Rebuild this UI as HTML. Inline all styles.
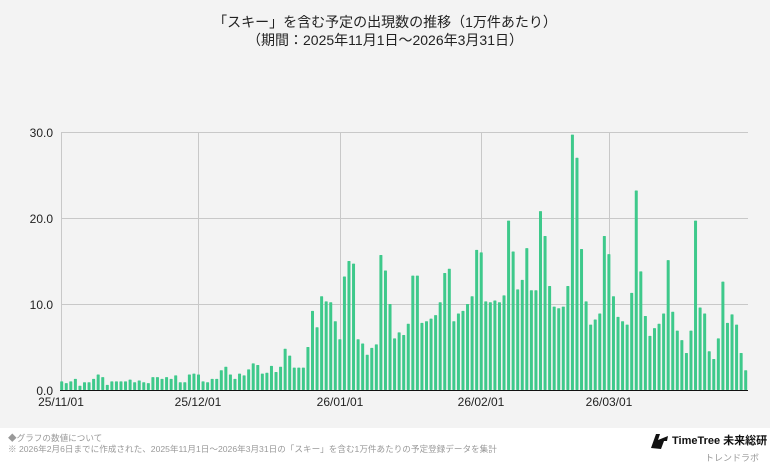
<!DOCTYPE html>
<html><head><meta charset="utf-8">
<style>
html,body{margin:0;padding:0;background:#fff;}
body{width:770px;height:471px;overflow:hidden;font-family:"Liberation Sans","Noto Sans CJK JP",sans-serif;}
</style></head><body>
<svg id="s" width="770" height="471" xmlns="http://www.w3.org/2000/svg" style="display:block">
<rect x="0" y="0" width="770" height="428" fill="#f3f3f3"/>
<text x="385" y="27" text-anchor="middle" font-size="14" fill="#222" font-family="Liberation Sans, Noto Sans CJK JP, sans-serif">「スキー」を含む予定の出現数の推移（1万件あたり）</text>
<text x="385" y="45" text-anchor="middle" font-size="14" fill="#222" font-family="Liberation Sans, Noto Sans CJK JP, sans-serif">（期間：2025年11月1日〜2026年3月31日）</text>
<g stroke="#c8c8c8" stroke-width="1">
<line x1="61" y1="132.5" x2="748" y2="132.5"/>
<line x1="61" y1="218.5" x2="748" y2="218.5"/>
<line x1="61" y1="304.5" x2="748" y2="304.5"/>
<line x1="61.5" y1="132" x2="61.5" y2="390"/>
<line x1="198.5" y1="132" x2="198.5" y2="390"/>
<line x1="340.5" y1="132" x2="340.5" y2="390"/>
<line x1="481.5" y1="132" x2="481.5" y2="390"/>
<line x1="609.5" y1="132" x2="609.5" y2="390"/>
</g>
<g font-size="12" fill="#222" text-anchor="end">
<text x="53" y="137">30.0</text>
<text x="53" y="223">20.0</text>
<text x="53" y="309">10.0</text>
<text x="53" y="395">0.0</text>
</g>
<g font-size="12" fill="#222" text-anchor="middle">
<text x="61" y="406">25/11/01</text>
<text x="198" y="406">25/12/01</text>
<text x="340" y="406">26/01/01</text>
<text x="481" y="406">26/02/01</text>
<text x="609" y="406">26/03/01</text>
</g>
<g id="bars" fill="#3ec98b"></g>
<line x1="60" y1="390.5" x2="748" y2="390.5" stroke="#111" stroke-width="1"/>
<text x="8" y="441" font-size="8.6" fill="#999" font-family="Liberation Sans, Noto Sans CJK JP, sans-serif">◆グラフの数値について</text>
<text x="8" y="452" font-size="8.6" fill="#999" font-family="Liberation Sans, Noto Sans CJK JP, sans-serif">※ 2026年2月6日までに作成された、2025年11月1日〜2026年3月31日の「スキー」を含む1万件あたりの予定登録データを集計</text>
<path d="M651 448 L656 434 L660 434 L658 440 L668 436 L667 441 L664 441 L661 449 Z" fill="#111"/>
<text x="672" y="444" font-size="11" font-weight="bold" fill="#111" font-family="Liberation Sans, Noto Sans CJK JP, sans-serif">TimeTree 未来総研</text>
<text x="705" y="461" font-size="9" fill="#999" font-family="Liberation Sans, Noto Sans CJK JP, sans-serif">トレンドラボ</text>
</svg>
<script>
var v=[1.0,0.8,1.0,1.3,0.5,0.9,0.9,1.3,1.8,1.5,0.6,1.0,1.0,1.0,1.0,1.2,0.9,1.1,0.9,0.8,1.5,1.5,1.3,1.5,1.3,1.7,0.9,0.9,1.8,1.9,1.8,1.0,0.9,1.3,1.3,2.3,2.7,1.8,1.3,1.9,1.7,2.4,3.1,2.9,1.9,2.0,2.8,2.1,2.7,4.8,4.0,2.6,2.6,
2.6,5.0,9.2,7.3,10.9,10.3,10.2,8.0,5.9,13.2,15.0,14.7,5.9,5.4,4.1,4.9,5.3,15.7,13.9,10.0,6.0,6.7,6.4,7.7,13.3,13.3,7.8,8.0,8.3,8.7,10.2,13.6,14.1,8.0,8.9,9.2,10.0,10.9,16.3,16.0,10.3,10.2,10.4,10.2,11.0,19.7,16.1,11.7,12.8,16.5,
11.6,11.6,20.8,17.9,12.1,9.7,9.5,9.7,12.1,29.7,27.0,16.4,10.3,7.6,8.2,8.9,17.9,15.8,10.9,8.5,8.0,7.6,11.3,23.2,13.8,8.6,6.3,7.2,7.7,8.9,15.1,9.1,6.9,5.8,4.3,6.9,19.7,9.6,8.9,4.5,3.6,6.0,12.6,7.8,8.8,7.6,4.3,2.3];
var g=document.getElementById('bars'),h='';
for(var i=0;i<v.length;i++){var cx=61.7+i*4.56,hh=v[i]*8.6;h+='<rect x="'+(cx-1.5).toFixed(2)+'" y="'+(390-hh).toFixed(2)+'" width="3" height="'+hh.toFixed(2)+'" rx="0.6"/>';}
g.innerHTML=h;
</script>
</body></html>
